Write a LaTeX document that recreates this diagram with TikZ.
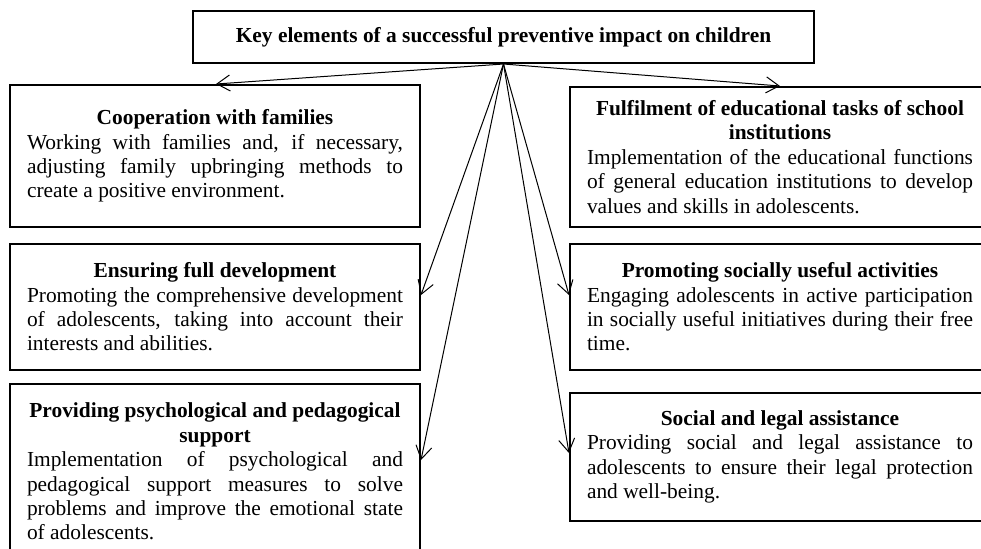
\documentclass[tikz,border=0pt]{standalone}
\usepackage{fontspec}
\setmainfont{Liberation Serif}
\usetikzlibrary{arrows.meta}
\setlength{\parindent}{0pt}
\hyphenpenalty=10000
\exhyphenpenalty=10000

\begin{document}
\begin{tikzpicture}
    [
    x = 0.5pt, y = -0.5pt,
    every node/.style = {font=\fontsize{10.7}{12.2}\selectfont},
    ]
    \tikzstyle{head node}=[rectangle,draw,line width=1pt,minimum width=310.5pt,minimum height=26pt,font=\fontsize{10.7}{12.2}\selectfont\bfseries]
    \tikzstyle{left node}=[rectangle,draw,line width=1pt,text width=188pt,inner xsep=8.5pt,inner ysep=4pt,align=justify]
    \tikzstyle{right node}=[left node,text width=193pt]
    \tikzstyle{fan}=[line width=0.5pt,-{Straight Barb[length=6.5pt,width=8pt]}]

    \useasboundingbox (0,0) rectangle (981,548);

    \node[head node] (key) at (503.5,37) {Key elements of a successful preventive impact on children};

    \node[left node,minimum height=71pt] (coop) at (215,156)
        {{\centering\bfseries Cooperation with families\par}Working with families and, if necessary,\linebreak adjusting family upbringing methods to\linebreak create a positive environment.};
    \node[left node,minimum height=63pt] (develop) at (215,307)
        {{\centering\bfseries Ensuring full development\par}Promoting the comprehensive development\linebreak of adolescents, taking into account their\linebreak interests and abilities.};
    \node[left node,anchor=north,inner ysep=9.5pt] (support) at (215,383)
        {{\centering\bfseries Providing psychological and pedagogical\\ support\par}Implementation of psychological and\linebreak pedagogical support measures to solve\linebreak problems and improve the emotional state\linebreak of adolescents.};

    \node[right node,minimum height=70pt] (fulfil) at (780,157)
        {{\centering\bfseries Fulfilment of educational tasks of school\\ institutions\par}Implementation of the educational functions\linebreak of general education institutions to develop\linebreak values and skills in adolescents.};
    \node[right node,minimum height=63pt] (social) at (780,307)
        {{\centering\bfseries Promoting socially useful activities\par}Engaging adolescents in active participation\linebreak in socially useful initiatives during their free\linebreak time.};
    \node[right node,minimum height=64pt] (legal) at (780,457)
        {{\centering\bfseries Social and legal assistance\par}Providing social and legal assistance to\linebreak adolescents to ensure their legal protection\linebreak and well-being.};

    \draw[fan] (key.south) -- ([xshift=103.5pt]coop.north west);
    \draw[fan] (key.south) -- (fulfil.north);
    \draw[fan] (key.south) -- ([yshift=6pt]develop.east);
    \draw[fan] (key.south) -- ([yshift=-38.5pt]support.north east);
    \draw[fan] (key.south) -- ([yshift=6pt]social.west);
    \draw[fan] (key.south) -- ([yshift=2pt]legal.west);
\end{tikzpicture}
\end{document}
